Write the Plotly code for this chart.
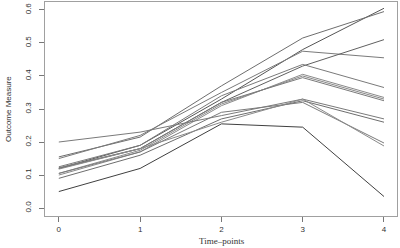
import plotly.graph_objects as go

timepoints = [0, 1, 2, 3, 4]

# each subject's outcome measure across the five time-points
subject_01 = [0.120, 0.190, 0.330, 0.480, 0.605]
subject_02 = [0.155, 0.215, 0.370, 0.515, 0.595]
subject_03 = [0.150, 0.220, 0.350, 0.475, 0.455]
subject_04 = [0.120, 0.180, 0.320, 0.430, 0.510]
subject_05 = [0.125, 0.190, 0.340, 0.435, 0.365]
subject_06 = [0.100, 0.170, 0.310, 0.405, 0.335]
subject_07 = [0.105, 0.175, 0.315, 0.400, 0.330]
subject_08 = [0.122, 0.180, 0.320, 0.395, 0.325]
subject_09 = [0.200, 0.230, 0.280, 0.330, 0.270]
subject_10 = [0.090, 0.160, 0.270, 0.325, 0.260]
subject_11 = [0.105, 0.170, 0.290, 0.320, 0.197]
subject_12 = [0.118, 0.180, 0.260, 0.330, 0.188]
subject_13 = [0.050, 0.120, 0.255, 0.245, 0.035]

subjects = [subject_01, subject_02, subject_03, subject_04, subject_05,
            subject_06, subject_07, subject_08, subject_09, subject_10,
            subject_11, subject_12, subject_13]
line_colors = ["#555555", "#6e6e6e", "#7a7a7a", "#606060", "#7a7a7a",
               "#8a8a8a", "#8a8a8a", "#7a7a7a", "#7a7a7a", "#6e6e6e",
               "#7a7a7a", "#8a8a8a", "#404040"]

y_ticks = [0.0, 0.1, 0.2, 0.3, 0.4, 0.5, 0.6]
x_ticks = [0, 1, 2, 3, 4]

fig = go.Figure()
for vals, col in zip(subjects, line_colors):
    fig.add_trace(go.Scatter(x=timepoints, y=vals, mode="lines",
                             line=dict(color=col, width=1), showlegend=False,
                             hoverinfo="skip"))

axis_common = dict(showgrid=False, zeroline=False, showline=True, mirror=True,
                   linecolor="#a0a0a0", linewidth=1.2, ticks="outside",
                   tickcolor="#777777", ticklen=5, tickwidth=1, automargin=False,
                   tickfont=dict(family="Liberation Sans", size=8, color="#333333"))

fig.update_layout(
    width=400, height=248,
    margin=dict(l=45, r=3, t=2, b=32),
    paper_bgcolor="white", plot_bgcolor="white",
    hovermode=False,
    xaxis=dict(range=[-0.17, 4.16], tickvals=x_ticks, **axis_common),
    yaxis=dict(range=[-0.024, 0.624], tickvals=y_ticks, tickformat=".1f",
               tickangle=-90, ticklabelstandoff=5, **axis_common),
    annotations=[
        dict(text="Time\u2013points", xref="paper", yref="paper",
             x=(222 - 45) / 352, y=0, yshift=-25, xanchor="center", yanchor="middle",
             showarrow=False,
             font=dict(family="Liberation Serif", size=9, color="#333333")),
        dict(text="Outcome Measure", xref="paper", yref="paper",
             x=0, y=0.5, xshift=-37, xanchor="center", yanchor="middle",
             textangle=-90, showarrow=False,
             font=dict(family="Liberation Sans", size=8, color="#333333")),
    ],
)

fig.write_html("out.html", config={"displayModeBar": False},
               post_script="document.body.style.margin='0';document.body.style.overflow='hidden';")
